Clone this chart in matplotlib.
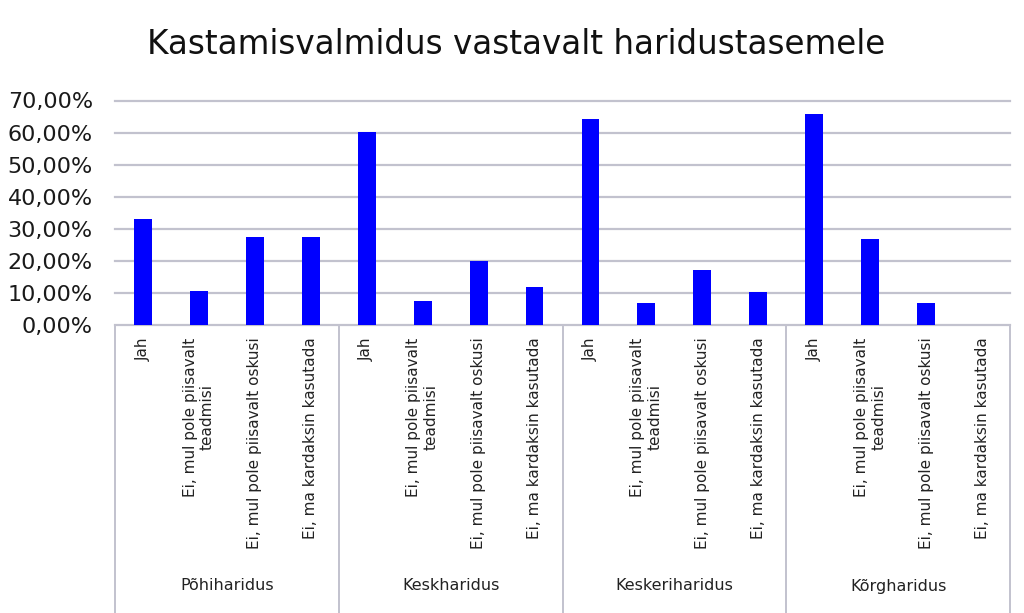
import matplotlib
matplotlib.use("Agg")
import matplotlib.pyplot as plt
import matplotlib.transforms as mtransforms
from matplotlib.lines import Line2D
from matplotlib.ticker import FuncFormatter

groups = ["Põhiharidus", "Keskharidus", "Keskeriharidus", "Kõrgharidus"]
answers = ["Jah",
           "Ei, mul pole piisavalt\nteadmisi",
           "Ei, mul pole piisavalt oskusi",
           "Ei, ma kardaksin kasutada"]
pohiharidus = [33.0, 10.5, 27.5, 27.5]
keskharidus = [60.1, 7.6, 19.9, 11.7]
keskeriharidus = [64.3, 7.0, 17.2, 10.3]
korgharidus = [65.7, 26.8, 7.0, 0.0]
yticks = [0, 10, 20, 30, 40, 50, 60, 70]

values = pohiharidus + keskharidus + keskeriharidus + korgharidus
labels = answers * len(groups)

W, H = 1024, 613
fig = plt.figure(figsize=(W / 100, H / 100), dpi=100)
ax = fig.add_axes([115 / W, (H - 325) / H, (1010 - 115) / W, (325 - 100.5) / H])

x = list(range(len(values)))
ax.bar(x, [v / 100 for v in values], width=0.32, color="#0000FF", zorder=3)

ax.set_xlim(-0.5, len(values) - 0.5)
ax.set_ylim(0, 0.70)
ax.set_yticks([t / 100 for t in yticks])
ax.yaxis.set_major_formatter(FuncFormatter(lambda v, p: f"{v*100:.2f}%".replace(".", ",")))
ax.grid(axis="y", color="#C2C2CE", linewidth=1.6, zorder=0)
for gl in ax.get_ygridlines():
    gl.set_clip_on(False)
for s in ax.spines.values():
    s.set_visible(False)
ax.tick_params(axis="y", length=0, pad=16, labelsize=16, labelcolor="#1a1a1a")
ax.set_xticks(x)
ax.set_xticklabels(labels, rotation=90, fontsize=11, color="#222222",
                   multialignment="center")
ax.tick_params(axis="x", length=0, pad=9)

# separators and group labels
trans = mtransforms.blended_transform_factory(ax.transData, fig.transFigure)
for b in [-0.5, 3.5, 7.5, 11.5, 15.5]:
    fig.add_artist(Line2D([b, b], [0, (H - 325) / H], transform=trans,
                          color="#C2C2CE", linewidth=1.4, clip_on=False))
for i, g in enumerate(groups):
    ax.text(i * 4 + 1.5, (H - 586) / H, g, transform=trans, ha="center",
            va="center", fontsize=11.5, color="#222222")

fig.text(516 / W, (H - 45) / H, "Kastamisvalmidus vastavalt haridustasemele",
         ha="center", va="center", fontsize=23.5, color="#111111")

fig.savefig("out.png", dpi=100)
